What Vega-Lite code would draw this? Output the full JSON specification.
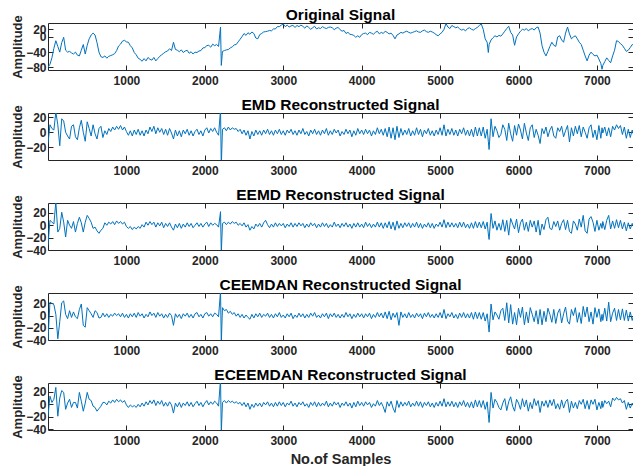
{
"$schema": "https://vega.github.io/schema/vega-lite/v6.json",
"padding": {"left": 11, "top": 8, "right": 0, "bottom": 0},
"background": "white",
"bounds": "flush",
"spacing": 43,
"config": {
  "font": "Liberation Sans",
  "view": {"stroke": null},
  "axis": {"grid": false, "labelFont": "Liberation Sans", "labelFontWeight": "bold", "labelFontSize": 12, "labelColor": "#262626", "domainColor": "#262626", "domainWidth": 1, "tickColor": "#262626", "tickSize": -5, "tickWidth": 1, "titleFont": "Liberation Sans", "titleFontWeight": "bold", "titleFontSize": 13, "titleColor": "#262626", "labelOverlap": false, "labelFlush": false},
  "axisLeft": {"labelPadding": 7, "titleX": -27, "titleY": 23.5, "titleAngle": 270, "titleBaseline": "alphabetic", "titleAlign": "center"},
  "axisBottom": {"labelPadding": 10},
  "axisTop": {"minExtent": 0, "maxExtent": 0},
  "axisRight": {"minExtent": 0, "maxExtent": 0},
  "title": {"font": "Liberation Sans", "fontSize": 15.5, "fontWeight": "bold", "color": "#000000", "baseline": "alphabetic", "offset": -9, "anchor": "middle"}
},
"data": {"values": [
{"x":0,"o":-80,"a":-15,"b":-32,"c":-40,"d":-19},
{"x":25,"o":-72,"a":10,"b":8,"c":22,"d":13},
{"x":50,"o":-55,"a":5,"b":5,"c":20,"d":3},
{"x":75,"o":-30,"a":3,"b":2,"c":18,"d":8},
{"x":100,"o":-10,"a":27,"b":38,"c":2,"d":27},
{"x":125,"o":-25,"a":10,"b":-11,"c":-38,"d":-19},
{"x":150,"o":-40,"a":-18,"b":-5,"c":-10,"d":10},
{"x":175,"o":-15,"a":18,"b":21,"c":21,"d":22},
{"x":200,"o":-1,"a":15,"b":5,"c":24,"d":19},
{"x":225,"o":-35,"a":0,"b":-19,"c":2,"d":-8},
{"x":250,"o":-40,"a":-5,"b":8,"c":-5,"d":2},
{"x":275,"o":-38,"a":-9,"b":0,"c":8,"d":8},
{"x":300,"o":-42,"a":8,"b":-5,"c":-3,"d":-5},
{"x":325,"o":-45,"a":10,"b":6,"c":6,"d":3},
{"x":350,"o":-40,"a":-6,"b":-11,"c":-2,"d":3},
{"x":375,"o":-48,"a":-10,"b":3,"c":-5,"d":-6},
{"x":400,"o":-50,"a":6,"b":13,"c":10,"d":19},
{"x":425,"o":-35,"a":16,"b":4,"c":19,"d":5},
{"x":450,"o":-20,"a":0,"b":-11,"c":-16,"d":-11},
{"x":475,"o":-45,"a":-12,"b":5,"c":-19,"d":2},
{"x":500,"o":-22,"a":14,"b":16,"c":13,"d":19},
{"x":525,"o":-5,"a":5,"b":11,"c":8,"d":8},
{"x":550,"o":5,"a":-5,"b":5,"c":3,"d":6},
{"x":575,"o":10,"a":10,"b":-5,"c":-3,"d":-3},
{"x":600,"o":5,"a":-2,"b":-3,"c":8,"d":-5},
{"x":625,"o":-15,"a":-9,"b":-9,"c":5,"d":-11},
{"x":650,"o":-40,"a":5,"b":-13,"c":-4,"d":-7},
{"x":675,"o":-52,"a":8,"b":-8,"c":-3,"d":-3},
{"x":700,"o":-54,"a":-7,"b":-5,"c":4,"d":3},
{"x":725,"o":-50,"a":2,"b":4,"c":-2,"d":3},
{"x":750,"o":-56,"a":-3,"b":0,"c":3,"d":-1},
{"x":775,"o":-51,"a":5,"b":5,"c":-3,"d":5},
{"x":800,"o":-49,"a":1,"b":2,"c":2,"d":2},
{"x":825,"o":-47,"a":7,"b":6,"c":-1,"d":7},
{"x":850,"o":-44,"a":3,"b":1,"c":4,"d":3},
{"x":875,"o":-36,"a":8,"b":7,"c":0,"d":8},
{"x":900,"o":-24,"a":4,"b":3,"c":3,"d":4},
{"x":925,"o":-19,"a":9,"b":6,"c":-2,"d":7},
{"x":950,"o":-11,"a":3,"b":2,"c":4,"d":3},
{"x":975,"o":-9,"a":7,"b":5,"c":-3,"d":6},
{"x":1000,"o":-13,"a":1,"b":-2,"c":2,"d":-1},
{"x":1025,"o":-14,"a":-4,"b":-5,"c":-4,"d":-5},
{"x":1050,"o":-23,"a":2,"b":-2,"c":3,"d":-1},
{"x":1075,"o":-29,"a":-5,"b":-7,"c":-2,"d":-4},
{"x":1100,"o":-41,"a":3,"b":-3,"c":4,"d":-2},
{"x":1125,"o":-47,"a":-3,"b":-6,"c":-3,"d":-5},
{"x":1150,"o":-56,"a":4,"b":-2,"c":5,"d":0},
{"x":1175,"o":-59,"a":-4,"b":-5,"c":-1,"d":-4},
{"x":1200,"o":-64,"a":2,"b":1,"c":3,"d":2},
{"x":1225,"o":-57,"a":-5,"b":-3,"c":-4,"d":-3},
{"x":1250,"o":-63,"a":3,"b":5,"c":2,"d":4},
{"x":1275,"o":-54,"a":-2,"b":0,"c":-2,"d":-1},
{"x":1300,"o":-59,"a":7,"b":6,"c":6,"d":6},
{"x":1325,"o":-61,"a":1,"b":1,"c":0,"d":1},
{"x":1350,"o":-54,"a":8,"b":5,"c":4,"d":7},
{"x":1375,"o":-63,"a":-2,"b":-3,"c":-3,"d":-2},
{"x":1400,"o":-57,"a":6,"b":4,"c":5,"d":5},
{"x":1425,"o":-51,"a":0,"b":-1,"c":-1,"d":0},
{"x":1450,"o":-47,"a":5,"b":5,"c":3,"d":6},
{"x":1475,"o":-43,"a":-3,"b":-4,"c":-4,"d":-3},
{"x":1500,"o":-39,"a":4,"b":3,"c":2,"d":3},
{"x":1525,"o":-37,"a":-4,"b":-2,"c":-3,"d":-3},
{"x":1550,"o":-31,"a":5,"b":4,"c":4,"d":4},
{"x":1575,"o":-36,"a":-1,"b":-3,"c":0,"d":-1},
{"x":1600,"o":-14,"a":-9,"b":-8,"c":-16,"d":-14},
{"x":1625,"o":-33,"a":3,"b":2,"c":3,"d":2},
{"x":1650,"o":-35,"a":-5,"b":-4,"c":-3,"d":-4},
{"x":1675,"o":-39,"a":2,"b":3,"c":2,"d":3},
{"x":1700,"o":-34,"a":-6,"b":-5,"c":-5,"d":-5},
{"x":1725,"o":-41,"a":3,"b":2,"c":3,"d":2},
{"x":1750,"o":-37,"a":-2,"b":-3,"c":-1,"d":-2},
{"x":1775,"o":-35,"a":4,"b":4,"c":4,"d":4},
{"x":1800,"o":-43,"a":-4,"b":-2,"c":-3,"d":-3},
{"x":1825,"o":-39,"a":2,"b":3,"c":2,"d":3},
{"x":1850,"o":-45,"a":-5,"b":-4,"c":-4,"d":-4},
{"x":1875,"o":-40,"a":1,"b":0,"c":3,"d":1},
{"x":1900,"o":-41,"a":4,"b":4,"c":5,"d":5},
{"x":1925,"o":-37,"a":-3,"b":-2,"c":-2,"d":-2},
{"x":1950,"o":-36,"a":2,"b":3,"c":2,"d":3},
{"x":1975,"o":-29,"a":-5,"b":-3,"c":-4,"d":-4},
{"x":2000,"o":-28,"a":3,"b":2,"c":3,"d":2},
{"x":2025,"o":-23,"a":6,"b":5,"c":5,"d":6},
{"x":2050,"o":-22,"a":-1,"b":-2,"c":-1,"d":-1},
{"x":2075,"o":-27,"a":5,"b":4,"c":3,"d":4},
{"x":2100,"o":-19,"a":1,"b":0,"c":-2,"d":0},
{"x":2125,"o":-23,"a":6,"b":3,"c":4,"d":5},
{"x":2150,"o":-20,"a":0,"b":1,"c":2,"d":2},
{"x":2175,"o":-25,"a":-4,"b":-3,"c":-2,"d":-3},
{"x":2200,"o":26,"a":30,"b":22,"c":40,"d":40},
{"x":2210,"o":-75,"a":-45,"b":-45,"c":-45,"d":-45},
{"x":2225,"o":-38,"a":4,"b":3,"c":13,"d":3},
{"x":2250,"o":-36,"a":6,"b":5,"c":8,"d":6},
{"x":2275,"o":-34,"a":2,"b":1,"c":10,"d":2},
{"x":2300,"o":-33,"a":7,"b":5,"c":4,"d":6},
{"x":2325,"o":-29,"a":3,"b":2,"c":7,"d":3},
{"x":2350,"o":-26,"a":6,"b":6,"c":2,"d":5},
{"x":2375,"o":-21,"a":4,"b":3,"c":5,"d":2},
{"x":2400,"o":-20,"a":5,"b":5,"c":-1,"d":4},
{"x":2425,"o":-13,"a":1,"b":0,"c":3,"d":1},
{"x":2450,"o":-6,"a":4,"b":3,"c":-3,"d":3},
{"x":2475,"o":1,"a":-2,"b":-1,"c":2,"d":-2},
{"x":2500,"o":9,"a":3,"b":4,"c":-4,"d":3},
{"x":2525,"o":4,"a":-4,"b":-3,"c":1,"d":-4},
{"x":2550,"o":11,"a":2,"b":1,"c":-3,"d":2},
{"x":2575,"o":7,"a":-9,"b":-8,"c":-6,"d":-8},
{"x":2600,"o":13,"a":1,"b":-2,"c":2,"d":0},
{"x":2625,"o":9,"a":-5,"b":-6,"c":-4,"d":-5},
{"x":2650,"o":-3,"a":3,"b":2,"c":3,"d":2},
{"x":2675,"o":-5,"a":-3,"b":-2,"c":-2,"d":-3},
{"x":2700,"o":6,"a":2,"b":3,"c":4,"d":2},
{"x":2725,"o":9,"a":-4,"b":-3,"c":-3,"d":-4},
{"x":2750,"o":13,"a":3,"b":4,"c":2,"d":3},
{"x":2775,"o":14,"a":-2,"b":8,"c":-1,"d":-1},
{"x":2800,"o":15,"a":4,"b":1,"c":4,"d":4},
{"x":2825,"o":17,"a":-3,"b":-4,"c":-3,"d":-3},
{"x":2850,"o":16,"a":2,"b":2,"c":2,"d":2},
{"x":2875,"o":21,"a":-4,"b":-3,"c":-4,"d":-4},
{"x":2900,"o":21,"a":3,"b":4,"c":3,"d":3},
{"x":2925,"o":27,"a":-2,"b":-2,"c":-2,"d":-3},
{"x":2950,"o":27,"a":4,"b":3,"c":5,"d":4},
{"x":2975,"o":31,"a":-3,"b":-1,"c":-3,"d":-2},
{"x":3000,"o":34,"a":2,"b":3,"c":1,"d":3},
{"x":3025,"o":27,"a":-4,"b":-4,"c":-4,"d":-4},
{"x":3050,"o":31,"a":3,"b":2,"c":3,"d":2},
{"x":3075,"o":26,"a":-1,"b":-2,"c":-2,"d":-1},
{"x":3100,"o":29,"a":4,"b":4,"c":4,"d":5},
{"x":3125,"o":30,"a":-3,"b":-3,"c":-5,"d":-3},
{"x":3150,"o":25,"a":2,"b":3,"c":1,"d":2},
{"x":3175,"o":30,"a":-4,"b":-2,"c":-3,"d":-4},
{"x":3200,"o":27,"a":3,"b":4,"c":4,"d":3},
{"x":3225,"o":31,"a":-2,"b":-1,"c":-2,"d":-1},
{"x":3250,"o":28,"a":5,"b":3,"c":3,"d":4},
{"x":3275,"o":23,"a":-3,"b":-4,"c":-4,"d":-3},
{"x":3300,"o":29,"a":1,"b":2,"c":2,"d":1},
{"x":3325,"o":25,"a":-5,"b":-3,"c":-3,"d":-5},
{"x":3350,"o":20,"a":3,"b":4,"c":4,"d":3},
{"x":3375,"o":24,"a":-2,"b":-1,"c":-1,"d":-2},
{"x":3400,"o":28,"a":4,"b":3,"c":5,"d":4},
{"x":3425,"o":21,"a":-3,"b":-4,"c":-3,"d":-4},
{"x":3450,"o":24,"a":2,"b":2,"c":1,"d":3},
{"x":3475,"o":22,"a":-4,"b":-3,"c":-4,"d":-3},
{"x":3500,"o":27,"a":3,"b":4,"c":3,"d":2},
{"x":3525,"o":24,"a":-2,"b":-2,"c":-2,"d":-2},
{"x":3550,"o":22,"a":5,"b":3,"c":4,"d":5},
{"x":3575,"o":25,"a":-4,"b":-4,"c":-5,"d":-4},
{"x":3600,"o":26,"a":2,"b":1,"c":3,"d":2},
{"x":3625,"o":24,"a":-3,"b":-3,"c":-2,"d":-3},
{"x":3650,"o":19,"a":4,"b":5,"c":4,"d":4},
{"x":3675,"o":23,"a":-1,"b":-2,"c":-3,"d":-1},
{"x":3700,"o":25,"a":3,"b":2,"c":2,"d":3},
{"x":3725,"o":19,"a":-5,"b":-4,"c":-4,"d":-5},
{"x":3750,"o":15,"a":1,"b":3,"c":2,"d":2},
{"x":3775,"o":17,"a":-3,"b":-2,"c":-3,"d":-2},
{"x":3800,"o":9,"a":4,"b":4,"c":5,"d":4},
{"x":3825,"o":12,"a":-2,"b":-3,"c":-2,"d":-3},
{"x":3850,"o":7,"a":3,"b":2,"c":3,"d":2},
{"x":3875,"o":6,"a":-6,"b":-5,"c":-5,"d":-6},
{"x":3900,"o":4,"a":2,"b":3,"c":2,"d":3},
{"x":3925,"o":-1,"a":-4,"b":-3,"c":-3,"d":-4},
{"x":3950,"o":3,"a":5,"b":4,"c":4,"d":5},
{"x":3975,"o":-1,"a":-2,"b":-3,"c":-2,"d":-2},
{"x":4000,"o":6,"a":3,"b":2,"c":3,"d":3},
{"x":4025,"o":9,"a":-3,"b":-4,"c":-4,"d":-3},
{"x":4050,"o":10,"a":4,"b":5,"c":3,"d":4},
{"x":4075,"o":6,"a":-2,"b":-2,"c":-2,"d":-1},
{"x":4100,"o":12,"a":3,"b":3,"c":4,"d":3},
{"x":4125,"o":10,"a":-5,"b":-4,"c":-5,"d":-5},
{"x":4150,"o":7,"a":2,"b":2,"c":2,"d":1},
{"x":4175,"o":12,"a":-3,"b":-3,"c":-3,"d":-3},
{"x":4200,"o":15,"a":6,"b":5,"c":5,"d":6},
{"x":4225,"o":8,"a":-2,"b":-3,"c":-2,"d":-2},
{"x":4250,"o":12,"a":4,"b":4,"c":4,"d":3},
{"x":4275,"o":9,"a":-4,"b":-5,"c":-4,"d":-4},
{"x":4300,"o":15,"a":5,"b":4,"c":6,"d":-13},
{"x":4325,"o":12,"a":-6,"b":-4,"c":-5,"d":4},
{"x":4350,"o":8,"a":7,"b":6,"c":7,"d":-3},
{"x":4375,"o":10,"a":-8,"b":-6,"c":-7,"d":5},
{"x":4400,"o":4,"a":6,"b":5,"c":4,"d":-6},
{"x":4425,"o":-5,"a":-10,"b":-8,"c":-3,"d":-13},
{"x":4450,"o":5,"a":8,"b":7,"c":5,"d":6},
{"x":4475,"o":8,"a":-7,"b":-5,"c":-16,"d":-5},
{"x":4500,"o":12,"a":5,"b":3,"c":6,"d":4},
{"x":4525,"o":10,"a":-4,"b":-4,"c":-3,"d":-3},
{"x":4550,"o":13,"a":3,"b":4,"c":3,"d":3},
{"x":4575,"o":15,"a":-3,"b":-2,"c":-4,"d":-2},
{"x":4600,"o":12,"a":5,"b":4,"c":5,"d":5},
{"x":4625,"o":10,"a":-5,"b":-4,"c":-3,"d":-4},
{"x":4650,"o":12,"a":2,"b":3,"c":2,"d":2},
{"x":4675,"o":14,"a":-4,"b":-3,"c":-4,"d":-3},
{"x":4700,"o":16,"a":6,"b":5,"c":4,"d":5},
{"x":4725,"o":13,"a":-3,"b":-4,"c":-2,"d":-3},
{"x":4750,"o":12,"a":4,"b":3,"c":3,"d":4},
{"x":4775,"o":16,"a":-6,"b":-5,"c":-5,"d":-5},
{"x":4800,"o":18,"a":3,"b":2,"c":4,"d":3},
{"x":4825,"o":14,"a":-2,"b":-3,"c":-2,"d":-2},
{"x":4850,"o":12,"a":5,"b":4,"c":5,"d":4},
{"x":4875,"o":15,"a":-4,"b":-4,"c":-3,"d":-4},
{"x":4900,"o":13,"a":2,"b":3,"c":2,"d":2},
{"x":4925,"o":10,"a":-5,"b":-5,"c":-4,"d":-5},
{"x":4950,"o":6,"a":3,"b":2,"c":3,"d":3},
{"x":4975,"o":3,"a":-3,"b":-2,"c":-3,"d":-3},
{"x":5000,"o":8,"a":6,"b":5,"c":5,"d":5},
{"x":5025,"o":12,"a":-4,"b":-3,"c":-4,"d":-3},
{"x":5050,"o":20,"a":10,"b":9,"c":10,"d":9},
{"x":5075,"o":35,"a":-5,"b":-4,"c":-5,"d":-4},
{"x":5100,"o":26,"a":4,"b":5,"c":3,"d":4},
{"x":5125,"o":22,"a":-3,"b":-3,"c":-2,"d":-3},
{"x":5150,"o":30,"a":5,"b":4,"c":5,"d":5},
{"x":5175,"o":27,"a":-4,"b":-3,"c":-4,"d":-4},
{"x":5200,"o":24,"a":3,"b":3,"c":2,"d":3},
{"x":5225,"o":26,"a":-5,"b":-4,"c":-5,"d":-5},
{"x":5250,"o":21,"a":4,"b":5,"c":4,"d":4},
{"x":5275,"o":18,"a":-2,"b":-3,"c":-3,"d":-2},
{"x":5300,"o":20,"a":6,"b":5,"c":5,"d":6},
{"x":5325,"o":16,"a":-4,"b":-4,"c":-4,"d":-4},
{"x":5350,"o":22,"a":3,"b":2,"c":3,"d":3},
{"x":5375,"o":24,"a":-5,"b":-5,"c":-4,"d":-5},
{"x":5400,"o":20,"a":4,"b":4,"c":5,"d":4},
{"x":5425,"o":18,"a":-6,"b":-5,"c":-6,"d":-6},
{"x":5450,"o":22,"a":7,"b":6,"c":6,"d":7},
{"x":5475,"o":25,"a":-5,"b":-4,"c":-5,"d":-4},
{"x":5500,"o":30,"a":6,"b":5,"c":5,"d":6},
{"x":5525,"o":34,"a":-5,"b":-4,"c":-6,"d":-5},
{"x":5550,"o":20,"a":7,"b":6,"c":5,"d":6},
{"x":5575,"o":-5,"a":-8,"b":-6,"c":-9,"d":-8},
{"x":5600,"o":-14,"a":4,"b":5,"c":3,"d":4},
{"x":5615,"o":-41,"a":-12,"b":-14,"c":-15,"d":-16},
{"x":5625,"o":-20,"a":-23,"b":-23,"c":-27,"d":-29},
{"x":5650,"o":-8,"a":18,"b":19,"c":19,"d":19},
{"x":5675,"o":-2,"a":-6,"b":-5,"c":-7,"d":-6},
{"x":5700,"o":3,"a":8,"b":7,"c":6,"d":8},
{"x":5725,"o":0,"a":2,"b":-8,"c":1,"d":3},
{"x":5750,"o":4,"a":-7,"b":3,"c":-6,"d":-5},
{"x":5775,"o":2,"a":-3,"b":-8,"c":8,"d":-9},
{"x":5800,"o":8,"a":10,"b":9,"c":12,"d":2},
{"x":5825,"o":15,"a":4,"b":-10,"c":-8,"d":9},
{"x":5850,"o":22,"a":-11,"b":8,"c":21,"d":-10},
{"x":5875,"o":28,"a":12,"b":-16,"c":-12,"d":4},
{"x":5900,"o":12,"a":-2,"b":11,"c":18,"d":12},
{"x":5925,"o":5,"a":-12,"b":2,"c":-14,"d":-3},
{"x":5950,"o":-22,"a":9,"b":-6,"c":5,"d":-11},
{"x":5975,"o":0,"a":-4,"b":10,"c":-15,"d":8},
{"x":6000,"o":8,"a":11,"b":-12,"c":12,"d":2},
{"x":6025,"o":15,"a":3,"b":4,"c":-3,"d":-8},
{"x":6050,"o":20,"a":-9,"b":10,"c":14,"d":9},
{"x":6075,"o":18,"a":12,"b":-8,"c":-15,"d":-4},
{"x":6100,"o":22,"a":-1,"b":5,"c":6,"d":7},
{"x":6125,"o":16,"a":-11,"b":-10,"c":-12,"d":-11},
{"x":6150,"o":20,"a":6,"b":8,"c":13,"d":3},
{"x":6175,"o":22,"a":10,"b":-3,"c":2,"d":-7},
{"x":6200,"o":18,"a":-7,"b":7,"c":-10,"d":9},
{"x":6225,"o":24,"a":4,"b":-11,"c":8,"d":-2},
{"x":6250,"o":26,"a":-4,"b":8,"c":-14,"d":6},
{"x":6275,"o":10,"a":-15,"b":-16,"c":10,"d":-13},
{"x":6300,"o":-23,"a":5,"b":2,"c":-15,"d":5},
{"x":6325,"o":-40,"a":-2,"b":-7,"c":7,"d":-3},
{"x":6350,"o":-50,"a":7,"b":9,"c":-10,"d":6},
{"x":6375,"o":-38,"a":-6,"b":13,"c":12,"d":-5},
{"x":6400,"o":-25,"a":3,"b":-5,"c":2,"d":7},
{"x":6425,"o":-14,"a":8,"b":-7,"c":-11,"d":-2},
{"x":6450,"o":-22,"a":-5,"b":6,"c":10,"d":8},
{"x":6475,"o":-25,"a":-8,"b":-2,"c":-13,"d":-7},
{"x":6500,"o":0,"a":6,"b":7,"c":4,"d":1},
{"x":6525,"o":3,"a":1,"b":-8,"c":11,"d":-8},
{"x":6550,"o":-8,"a":8,"b":3,"c":-12,"d":7},
{"x":6575,"o":-14,"a":-6,"b":9,"c":3,"d":-6},
{"x":6600,"o":10,"a":2,"b":-7,"c":14,"d":4},
{"x":6625,"o":26,"a":9,"b":8,"c":-9,"d":8},
{"x":6650,"o":8,"a":-13,"b":-10,"c":-14,"d":-13},
{"x":6675,"o":-5,"a":6,"b":-13,"c":10,"d":5},
{"x":6700,"o":0,"a":-5,"b":7,"c":0,"d":-6},
{"x":6725,"o":3,"a":8,"b":2,"c":13,"d":3},
{"x":6750,"o":-5,"a":-2,"b":-8,"c":-11,"d":-7},
{"x":6775,"o":-14,"a":9,"b":10,"c":5,"d":6},
{"x":6800,"o":-20,"a":-6,"b":-3,"c":-13,"d":0},
{"x":6825,"o":-35,"a":7,"b":16,"c":15,"d":8},
{"x":6850,"o":-50,"a":0,"b":-9,"c":-2,"d":-7},
{"x":6875,"o":-63,"a":-8,"b":-13,"c":14,"d":6},
{"x":6900,"o":-48,"a":6,"b":10,"c":-10,"d":-8},
{"x":6925,"o":-40,"a":10,"b":14,"c":6,"d":7},
{"x":6950,"o":-46,"a":-7,"b":5,"c":-14,"d":0},
{"x":6975,"o":-50,"a":3,"b":-10,"c":13,"d":8},
{"x":7000,"o":-48,"a":-10,"b":8,"c":-3,"d":-9},
{"x":7025,"o":-58,"a":9,"b":-8,"c":11,"d":3},
{"x":7050,"o":-70,"a":-8,"b":3,"c":-10,"d":-7},
{"x":7065,"o":-85,"a":6,"b":-5,"c":2,"d":5},
{"x":7075,"o":-75,"a":-1,"b":6,"c":-8,"d":-5},
{"x":7100,"o":-65,"a":7,"b":-7,"c":12,"d":6},
{"x":7125,"o":-55,"a":-5,"b":8,"c":-9,"d":1},
{"x":7150,"o":-62,"a":6,"b":16,"c":22,"d":5},
{"x":7175,"o":-68,"a":-6,"b":-6,"c":-10,"d":-4},
{"x":7200,"o":-50,"a":8,"b":7,"c":4,"d":10},
{"x":7225,"o":-35,"a":3,"b":-5,"c":12,"d":6},
{"x":7250,"o":-10,"a":10,"b":9,"c":-8,"d":11},
{"x":7275,"o":-12,"a":5,"b":-4,"c":10,"d":7},
{"x":7300,"o":-18,"a":9,"b":8,"c":-7,"d":9},
{"x":7325,"o":-22,"a":-3,"b":-6,"c":11,"d":2},
{"x":7350,"o":-30,"a":7,"b":5,"c":-8,"d":6},
{"x":7375,"o":-38,"a":-8,"b":-9,"c":9,"d":-8},
{"x":7400,"o":-35,"a":4,"b":4,"c":-9,"d":3},
{"x":7425,"o":-28,"a":-7,"b":-6,"c":6,"d":-6},
{"x":7450,"o":-20,"a":3,"b":3,"c":-8,"d":2},
{"x":7475,"o":-22,"a":-6,"b":-5,"c":4,"d":-5},
{"x":7500,"o":-25,"a":2,"b":1,"c":-6,"d":1}
]},
"vconcat": [
{
 "title": "Original Signal",
 "width": 585, "height": 47,
 "layer": [
  {"mark": {"type": "line", "color": "#0072BD", "strokeWidth": 1, "clip": true},
   "encoding": {
    "x": {"field": "x", "type": "quantitative", "scale": {"domain": [0, 7460], "nice": false, "zero": false}, "axis": {"orient": "bottom", "values": [1000,2000,3000,4000,5000,6000,7000], "format": "d", "title": null}},
    "y": {"field": "o", "type": "quantitative", "scale": {"domain": [-87, 36.6], "nice": false, "zero": false}, "axis": {"orient": "left", "values": [-80,-40,0,20], "title": "Amplitude"}}
   }},
  {"mark": {"type": "line", "opacity": 0, "clip": true},
   "encoding": {
    "x": {"field": "x", "type": "quantitative", "axis": {"orient": "top", "values": [1000,2000,3000,4000,5000,6000,7000], "labels": false, "title": null}},
    "y": {"field": "o", "type": "quantitative", "axis": {"orient": "right", "values": [-80,-40,0,20], "labels": false, "title": null}}
   }}
 ]
},
{
 "title": "EMD Reconstructed Signal",
 "width": 585, "height": 47,
 "layer": [
  {"mark": {"type": "line", "color": "#0072BD", "strokeWidth": 1, "clip": true},
   "encoding": {
    "x": {"field": "x", "type": "quantitative", "scale": {"domain": [0, 7460], "nice": false, "zero": false}, "axis": {"orient": "bottom", "values": [1000,2000,3000,4000,5000,6000,7000], "format": "d", "title": null}},
    "y": {"field": "a", "type": "quantitative", "scale": {"domain": [-37, 25.7], "nice": false, "zero": false}, "axis": {"orient": "left", "values": [-20,0,20], "title": "Amplitude"}}
   }},
  {"mark": {"type": "line", "opacity": 0, "clip": true},
   "encoding": {
    "x": {"field": "x", "type": "quantitative", "axis": {"orient": "top", "values": [1000,2000,3000,4000,5000,6000,7000], "labels": false, "title": null}},
    "y": {"field": "a", "type": "quantitative", "axis": {"orient": "right", "values": [-20,0,20], "labels": false, "title": null}}
   }}
 ]
},
{
 "title": "EEMD Reconstructed Signal",
 "width": 585, "height": 47,
 "layer": [
  {"mark": {"type": "line", "color": "#0072BD", "strokeWidth": 1, "clip": true},
   "encoding": {
    "x": {"field": "x", "type": "quantitative", "scale": {"domain": [0, 7460], "nice": false, "zero": false}, "axis": {"orient": "bottom", "values": [1000,2000,3000,4000,5000,6000,7000], "format": "d", "title": null}},
    "y": {"field": "b", "type": "quantitative", "scale": {"domain": [-40, 36], "nice": false, "zero": false}, "axis": {"orient": "left", "values": [-40,-20,0,20], "title": "Amplitude"}}
   }},
  {"mark": {"type": "line", "opacity": 0, "clip": true},
   "encoding": {
    "x": {"field": "x", "type": "quantitative", "axis": {"orient": "top", "values": [1000,2000,3000,4000,5000,6000,7000], "labels": false, "title": null}},
    "y": {"field": "b", "type": "quantitative", "axis": {"orient": "right", "values": [-40,-20,0,20], "labels": false, "title": null}}
   }}
 ]
},
{
 "title": "CEEMDAN Reconstructed Signal",
 "width": 585, "height": 47,
 "layer": [
  {"mark": {"type": "line", "color": "#0072BD", "strokeWidth": 1, "clip": true},
   "encoding": {
    "x": {"field": "x", "type": "quantitative", "scale": {"domain": [0, 7460], "nice": false, "zero": false}, "axis": {"orient": "bottom", "values": [1000,2000,3000,4000,5000,6000,7000], "format": "d", "title": null}},
    "y": {"field": "c", "type": "quantitative", "scale": {"domain": [-40, 37], "nice": false, "zero": false}, "axis": {"orient": "left", "values": [-40,-20,0,20], "title": "Amplitude"}}
   }},
  {"mark": {"type": "line", "opacity": 0, "clip": true},
   "encoding": {
    "x": {"field": "x", "type": "quantitative", "axis": {"orient": "top", "values": [1000,2000,3000,4000,5000,6000,7000], "labels": false, "title": null}},
    "y": {"field": "c", "type": "quantitative", "axis": {"orient": "right", "values": [-40,-20,0,20], "labels": false, "title": null}}
   }}
 ]
},
{
 "title": "ECEEMDAN Reconstructed Signal",
 "width": 585, "height": 47,
 "layer": [
  {"mark": {"type": "line", "color": "#0072BD", "strokeWidth": 1, "clip": true},
   "encoding": {
    "x": {"field": "x", "type": "quantitative", "scale": {"domain": [0, 7460], "nice": false, "zero": false}, "axis": {"orient": "bottom", "values": [1000,2000,3000,4000,5000,6000,7000], "format": "d", "title": "No.of Samples", "titleFontSize": 14.5, "titleY": 33, "titleBaseline": "alphabetic"}},
    "y": {"field": "d", "type": "quantitative", "scale": {"domain": [-41, 34], "nice": false, "zero": false}, "axis": {"orient": "left", "values": [-40,-20,0,20], "title": "Amplitude"}}
   }},
  {"mark": {"type": "line", "opacity": 0, "clip": true},
   "encoding": {
    "x": {"field": "x", "type": "quantitative", "axis": {"orient": "top", "values": [1000,2000,3000,4000,5000,6000,7000], "labels": false, "title": null}},
    "y": {"field": "d", "type": "quantitative", "axis": {"orient": "right", "values": [-40,-20,0,20], "labels": false, "title": null}}
   }}
 ]
}
]
}
